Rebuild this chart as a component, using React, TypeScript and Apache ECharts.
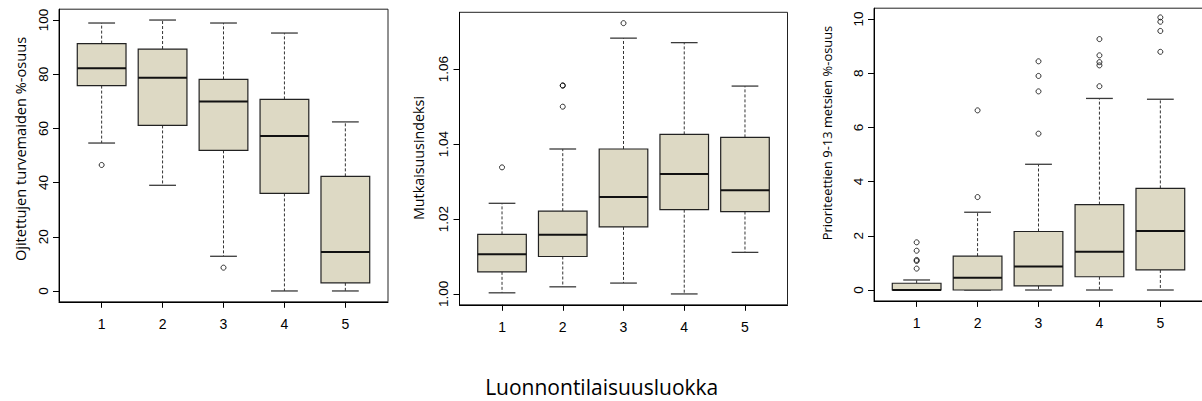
import React, { useEffect, useRef } from "react";
import * as echarts from "echarts";

// ---- Data ----
const classLabels = ["1", "2", "3", "4", "5"];
const classPositions = [1, 2, 3, 4, 5];

// Panel 1: Ojitettujen turvemaiden %-osuus
const ojitLow = [54.6, 39.0, 12.8, 0, 0];
const ojitQ1 = [75.8, 61.1, 51.9, 36.0, 3.0];
const ojitMedian = [82.2, 78.7, 69.9, 57.2, 14.4];
const ojitQ3 = [91.3, 89.3, 78.1, 70.7, 42.3];
const ojitHigh = [98.9, 100, 98.9, 95.2, 62.4];
const ojitOutliers = [
  [1, 46.5],
  [3, 8.6],
];
const ojitTicks = [0, 20, 40, 60, 80, 100];

// Panel 2: Mutkaisuusindeksi
const mutkLow = [1.0003, 1.0019, 1.0029, 1.0, 1.0111];
const mutkQ1 = [1.0059, 1.01, 1.0179, 1.0225, 1.022];
const mutkMedian = [1.0106, 1.0158, 1.0259, 1.032, 1.0277];
const mutkQ3 = [1.0159, 1.0221, 1.0387, 1.0426, 1.0418];
const mutkHigh = [1.0242, 1.0387, 1.0683, 1.0671, 1.0555];
const mutkOutliers = [
  [1, 1.0338],
  [2, 1.0556],
  [2, 1.0557],
  [2, 1.05],
  [3, 1.0723],
];
const mutkTicks = [1.0, 1.02, 1.04, 1.06];

// Panel 3: Prioriteettien 9-13 metsien %-osuus
const prioLow = [0, 0, 0, 0, 0];
const prioQ1 = [0, 0, 0.15, 0.49, 0.74];
const prioMedian = [0, 0.455, 0.87, 1.41, 2.18];
const prioQ3 = [0.25, 1.25, 2.16, 3.15, 3.75];
const prioHigh = [0.37, 2.87, 4.64, 7.07, 7.04];
const prioOutliers = [
  [1, 0.79], [1, 1.07], [1, 1.11], [1, 1.45], [1, 1.76],
  [2, 3.43], [2, 6.63],
  [3, 5.77], [3, 7.33], [3, 7.9], [3, 8.44],
  [4, 7.52], [4, 8.29], [4, 8.41], [4, 8.66], [4, 9.26],
  [5, 8.79], [5, 9.56], [5, 9.9], [5, 10.06],
];
const prioTicks = [0, 2, 4, 6, 8, 10];

const titles = [
  "Ojitettujen turvemaiden %-osuus",
  "Mutkaisuusindeksi",
  "Prioriteettien 9-13 metsien %-osuus",
];
const xTitle = "Luonnontilaisuusluokka";

// ---- helpers ----
const BOX_WIDTH = 0.8;
const CAP_WIDTH = 0.44;
const FILL = "#DDD9C4";

function boxData(low: number[], q1: number[], med: number[], q3: number[], high: number[]) {
  return classPositions.map((x, i) => [x, low[i], q1[i], med[i], q3[i], high[i]]);
}

const renderBox = (params: any, api: any) => {
  const x = api.value(0);
  const pLo = api.coord([x, api.value(1)]);
  const pQ1 = api.coord([x, api.value(2)]);
  const pMd = api.coord([x, api.value(3)]);
  const pQ3 = api.coord([x, api.value(4)]);
  const pHi = api.coord([x, api.value(5)]);
  const half = api.size([BOX_WIDTH, 0])[0] / 2;
  const capHalf = api.size([CAP_WIDTH, 0])[0] / 2;
  const cx = pMd[0];
  const whisk = { stroke: "#333", lineWidth: 1, lineDash: [3, 2] };
  const cap = { stroke: "#3a3a3a", lineWidth: 1.3 };
  return {
    type: "group",
    children: [
      { type: "line", shape: { x1: cx, y1: pQ3[1], x2: cx, y2: pHi[1] }, style: whisk },
      { type: "line", shape: { x1: cx, y1: pQ1[1], x2: cx, y2: pLo[1] }, style: whisk },
      { type: "line", shape: { x1: cx - capHalf, y1: pHi[1], x2: cx + capHalf, y2: pHi[1] }, style: cap },
      { type: "line", shape: { x1: cx - capHalf, y1: pLo[1], x2: cx + capHalf, y2: pLo[1] }, style: cap },
      {
        type: "rect",
        shape: { x: cx - half, y: pQ3[1], width: half * 2, height: pQ1[1] - pQ3[1] },
        style: { fill: FILL, stroke: "#222", lineWidth: 1.2 },
      },
      {
        type: "line",
        shape: { x1: cx - half, y1: pMd[1], x2: cx + half, y2: pMd[1] },
        style: { stroke: "#111", lineWidth: 2 },
      },
    ],
  };
};

const TICK_FONT = "'Liberation Sans', Arial, sans-serif";
const TITLE_FONT = "'Open Sans', 'Noto Sans', sans-serif";

function makeYAxis(gridIndex: number, min: number, max: number, ticks: number[], digits: number) {
  return {
    type: "value",
    gridIndex,
    min,
    max,
    axisLine: { show: true, onZero: false, lineStyle: { color: "#000", width: 1 } },
    axisTick: { show: true, length: 6, customValues: ticks, lineStyle: { color: "#000" } },
    axisLabel: {
      customValues: ticks,
      rotate: 90,
      margin: 9,
      color: "#000",
      fontFamily: TICK_FONT,
      fontSize: 13.5,
      formatter: (v: number) => v.toFixed(digits),
    },
    splitLine: { show: false },
  };
}

function makeXAxis(gridIndex: number) {
  return {
    type: "value",
    gridIndex,
    min: 0.3,
    max: 5.7,
    axisLine: { show: true, onZero: false, lineStyle: { color: "#000", width: 1 } },
    axisTick: { show: true, length: 6, customValues: classPositions, lineStyle: { color: "#000" } },
    axisLabel: {
      customValues: classPositions,
      margin: 15,
      color: "#000",
      fontFamily: TICK_FONT,
      fontSize: 14,
      formatter: (v: number) => classLabels[Math.round(v) - 1] ?? "",
    },
    splitLine: { show: false },
  };
}

const gridBase = { show: true, borderColor: "#222", borderWidth: 1, backgroundColor: "transparent", outerBoundsMode: "none", containLabel: false };

export default function App() {
  const ref = useRef<HTMLDivElement>(null);
  useEffect(() => {
    if (!ref.current) return;
    const chart = echarts.init(ref.current, undefined, { renderer: "svg" });
    const panels = [
      { data: boxData(ojitLow, ojitQ1, ojitMedian, ojitQ3, ojitHigh), out: ojitOutliers },
      { data: boxData(mutkLow, mutkQ1, mutkMedian, mutkQ3, mutkHigh), out: mutkOutliers },
      { data: boxData(prioLow, prioQ1, prioMedian, prioQ3, prioHigh), out: prioOutliers },
    ];
    const series: any[] = [];
    panels.forEach((p, i) => {
      series.push({
        type: "custom",
        xAxisIndex: i,
        yAxisIndex: i,
        renderItem: renderBox,
        encode: { x: 0, y: [1, 2, 3, 4, 5] },
        data: p.data,
        clip: false,
      });
      series.push({
        type: "scatter",
        xAxisIndex: i,
        yAxisIndex: i,
        symbol: "circle",
        symbolSize: 5,
        itemStyle: { color: "rgba(0,0,0,0)", borderColor: "#000", borderWidth: 1 },
        data: p.out,
      });
    });
    const titleText = (text: string, x: number, y: number, size: number) => ({
      type: "text",
      x,
      y,
      rotation: Math.PI / 2,
      style: { text, font: `${size}px ${TITLE_FONT}`, fill: "#000", align: "center", verticalAlign: "middle" },
    });
    chart.setOption({
      animation: false,
      backgroundColor: "#fff",
      grid: [
        { ...gridBase, left: 59, top: 9.2, width: 329, height: 292.6 },
        { ...gridBase, left: 459.5, top: 12.3, width: 328, height: 292.5 },
        { ...gridBase, left: 874, top: 8.2, width: 329, height: 292.7 },
      ],
      xAxis: [makeXAxis(0), makeXAxis(1), makeXAxis(2)],
      yAxis: [
        makeYAxis(0, -4, 104, ojitTicks, 0),
        makeYAxis(1, 0.9971, 1.0752, mutkTicks, 2),
        makeYAxis(2, -0.402, 10.4, prioTicks, 0),
      ],
      series,
      graphic: [
        titleText(titles[0], 19.5, 149, 14.6),
        titleText(titles[1], 418, 158, 14.3),
        titleText(titles[2], 827, 133, 12.9),
        {
          type: "text",
          x: 601.7,
          y: 386.7,
          style: { text: xTitle, font: `21px ${TITLE_FONT}`, fill: "#000", align: "center", verticalAlign: "middle" },
        },
      ],
    });
    return () => chart.dispose();
  }, []);
  return (
    <div
      ref={ref}
      style={{ position: "fixed", left: 0, top: 0, width: 1202, height: 401, background: "#fff" }}
    />
  );
}
